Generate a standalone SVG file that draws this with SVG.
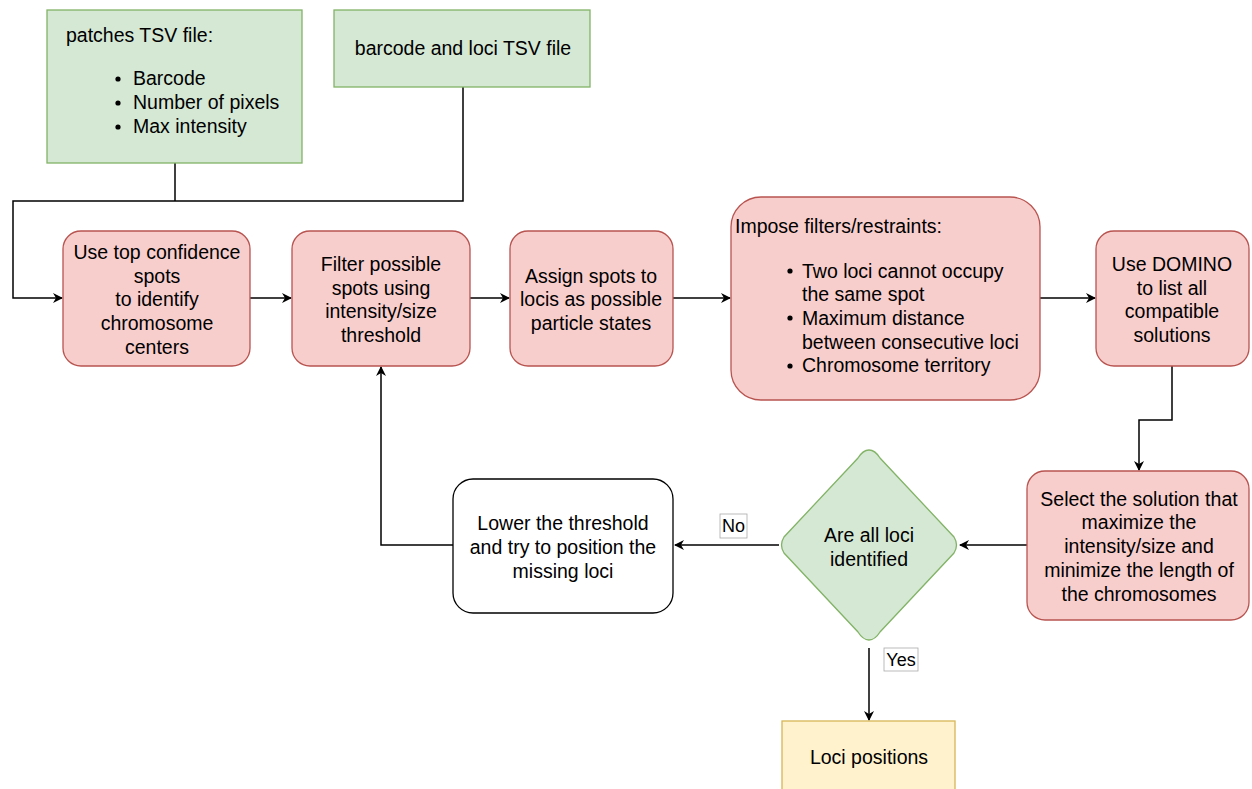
<svg xmlns="http://www.w3.org/2000/svg" width="1252" height="789" viewBox="0 0 1252 789">
<defs>
<marker id="arr" viewBox="0 0 10 10" refX="9" refY="5" markerWidth="10" markerHeight="10" markerUnits="userSpaceOnUse" orient="auto">
<path d="M0,0 L10,5 L0,10 L3,5 Z" fill="#000"/>
</marker>
<style>
text{font-family:"Liberation Sans",Arial,sans-serif;font-size:19.5px;fill:#000}
.c{text-anchor:middle}
.green{fill:#d5e8d4;stroke:#82b366;stroke-width:1.3}
.red{fill:#f8cecc;stroke:#b85450;stroke-width:1.3}
.white{fill:#fff;stroke:#000;stroke-width:1.3}
.yellow{fill:#fff2cc;stroke:#d6b656;stroke-width:1.3}
.conn{fill:none;stroke:#000;stroke-width:1.5}
.lbl{font-size:18px}
</style>
</defs>
<rect width="1252" height="789" fill="#fff"/>
<g id="connectors">
<path class="conn" d="M175,163 V201"/>
<path class="conn" d="M463,87 V201 H13 V298 H62" marker-end="url(#arr)"/>
<path class="conn" d="M250,298 H291" marker-end="url(#arr)"/>
<path class="conn" d="M470,298 H509" marker-end="url(#arr)"/>
<path class="conn" d="M673,298 H730" marker-end="url(#arr)"/>
<path class="conn" d="M1040,298 H1095" marker-end="url(#arr)"/>
<path class="conn" d="M1172,366 V420 H1139 V470" marker-end="url(#arr)"/>
<path class="conn" d="M1027,545 H960" marker-end="url(#arr)"/>
<path class="conn" d="M779,545 H675" marker-end="url(#arr)"/>
<path class="conn" d="M453,545 H381 V367" marker-end="url(#arr)"/>
<path class="conn" d="M869,648 V720" marker-end="url(#arr)"/>
<g id="label-no">
<rect x="720" y="514" width="27" height="24" fill="#fff" stroke="#aaa" stroke-width="0.8"/>
<text class="c lbl" x="733.5" y="532">No</text>
</g>
<g id="label-yes">
<rect x="884" y="648" width="34" height="23" fill="#fff" stroke="#aaa" stroke-width="0.8"/>
<text class="c lbl" x="901" y="666">Yes</text>
</g>
</g>
<g id="patches">
<rect class="green" x="47" y="10" width="255" height="153"/>
<text x="66" y="42">patches TSV file:</text>
<circle cx="118" cy="79" r="2.6"/>
<circle cx="118" cy="103" r="2.6"/>
<circle cx="118" cy="127" r="2.6"/>
<text x="133" y="85">Barcode</text>
<text x="133" y="109">Number of pixels</text>
<text x="133" y="133">Max intensity</text>
</g>
<g id="barcode">
<rect class="green" x="334" y="10" width="256" height="77"/>
<text class="c" x="463" y="55">barcode and loci TSV file</text>
</g>
<g id="top-confidence">
<rect class="red" x="63" y="231" width="187" height="135" rx="18"/>
<text class="c" x="157" y="259">Use top confidence</text>
<text class="c" x="157" y="283">spots</text>
<text class="c" x="157" y="306">to identify</text>
<text class="c" x="157" y="330">chromosome</text>
<text class="c" x="157" y="354">centers</text>
</g>
<g id="filter">
<rect class="red" x="292" y="231" width="178" height="135" rx="18"/>
<text class="c" x="381" y="271">Filter possible</text>
<text class="c" x="381" y="295">spots using</text>
<text class="c" x="381" y="318">intensity/size</text>
<text class="c" x="381" y="342">threshold</text>
</g>
<g id="assign">
<rect class="red" x="510" y="231" width="163" height="135" rx="18"/>
<text class="c" x="591" y="283">Assign spots to</text>
<text class="c" x="591" y="306">locis as possible</text>
<text class="c" x="591" y="330">particle states</text>
</g>
<g id="impose">
<rect class="red" x="731" y="197" width="309" height="203" rx="30"/>
<text x="735" y="233">Impose filters/restraints:</text>
<circle cx="790" cy="271" r="2.6"/>
<circle cx="790" cy="318" r="2.6"/>
<circle cx="790" cy="366" r="2.6"/>
<text x="802" y="278">Two loci cannot occupy</text>
<text x="802" y="301">the same spot</text>
<text x="802" y="325">Maximum distance</text>
<text x="802" y="349">between consecutive loci</text>
<text x="802" y="372">Chromosome territory</text>
</g>
<g id="domino">
<rect class="red" x="1096" y="231" width="153" height="135" rx="18"/>
<text class="c" x="1172" y="271">Use DOMINO</text>
<text class="c" x="1172" y="295">to list all</text>
<text class="c" x="1172" y="318">compatible</text>
<text class="c" x="1172" y="342">solutions</text>
</g>
<g id="select">
<rect class="red" x="1027" y="471" width="222" height="149" rx="18"/>
<text class="c" x="1139" y="506">Select the solution that</text>
<text class="c" x="1139" y="529">maximize the</text>
<text class="c" x="1139" y="553">intensity/size and</text>
<text class="c" x="1139" y="577">minimize the length of</text>
<text class="c" x="1139" y="601">the chromosomes</text>
</g>
<g id="decision">
<path class="green" d="M869,450 Q875,450 880,458 L954,537 Q959,545 954,553 L880,632 Q875,640 869,640 Q863,640 858,632 L784,553 Q779,545 784,537 L858,458 Q863,450 869,450 Z"/>
<text class="c" x="869" y="542">Are all loci</text>
<text class="c" x="869" y="566">identified</text>
</g>
<g id="lower">
<rect class="white" x="453" y="479" width="220" height="134" rx="20"/>
<text class="c" x="563" y="530">Lower the threshold</text>
<text class="c" x="563" y="554">and try to position the</text>
<text class="c" x="563" y="578">missing loci</text>
</g>
<g id="loci-positions">
<rect class="yellow" x="782" y="721" width="173" height="80"/>
<text class="c" x="869" y="764">Loci positions</text>
</g>
</svg>
